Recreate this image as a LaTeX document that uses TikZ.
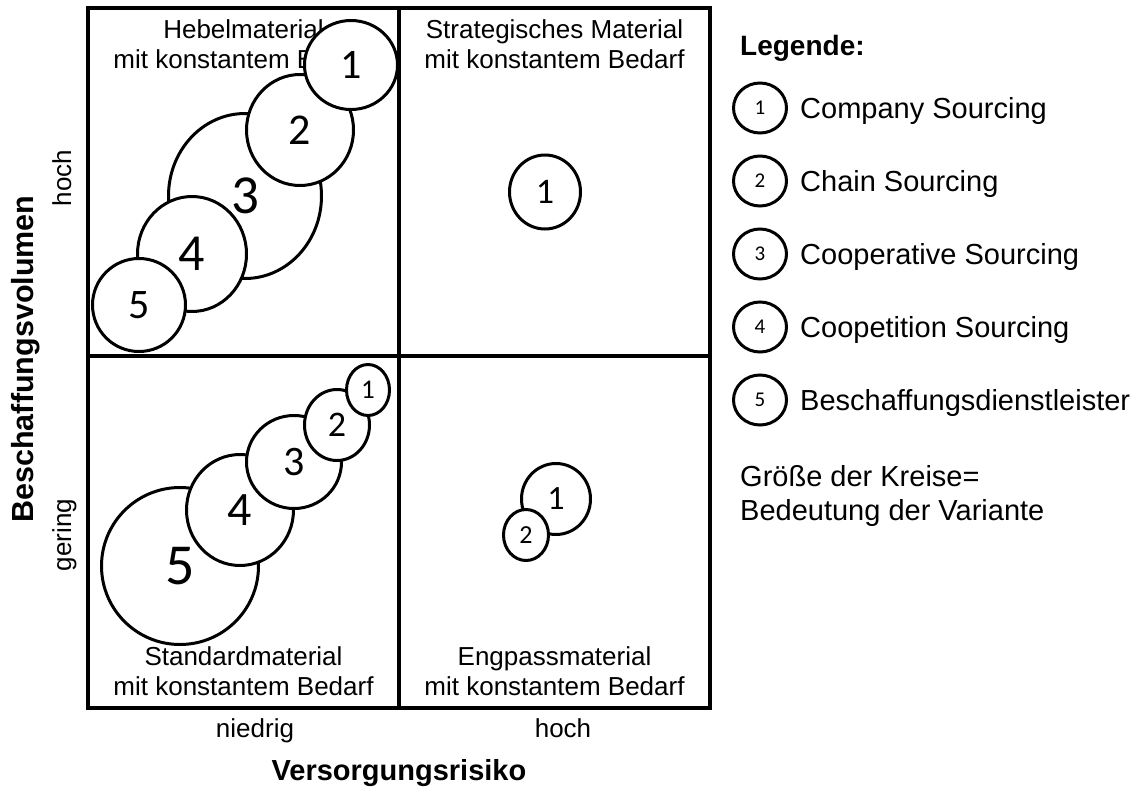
\documentclass[tikz,border=0pt]{standalone}
\usepackage{fontspec}
\setmainfont{Liberation Sans}
\newfontfamily\digitfont{Carlito}
\usetikzlibrary{shapes.geometric}
\tikzset{
  bub/.style={ellipse, draw, line width=3pt, fill=white, inner sep=0pt},
  frame/.style={line width=3.5pt, line join=miter},
  qtitle/.style={anchor=base, inner sep=0pt, font=\fontsize{26}{30}\selectfont},
  axlabel/.style={anchor=base, inner sep=0pt, font=\fontsize{26}{30}\selectfont},
  axtitle/.style={anchor=base, inner sep=0pt, font=\fontsize{29}{34}\selectfont\bfseries},
  legtext/.style={anchor=base west, inner sep=0pt, font=\fontsize{29}{34}\selectfont},
  legbub/.style={bub, minimum width=53pt, minimum height=50pt, font=\fontsize{21}{21}\digitfont},
}
\begin{document}
\begin{tikzpicture}[x=1pt, y=-1pt]
\useasboundingbox (0,0) rectangle (1146,787);

% corner and middle points of the portfolio grid
\coordinate (nw) at (88,8);
\coordinate (se) at (710,708);
\coordinate (mt) at (399,8);
\coordinate (mb) at (399,708);
\coordinate (ml) at (88,356);
\coordinate (mr) at (710,356);

% quadrant titles
\node[qtitle] (hebA) at (243.5,38) {Hebelmaterial};
\node[qtitle] (hebB) at (243.5,68) {mit konstantem Bedarf};
\node[qtitle] (strA) at (554.5,38) {Strategisches Material};
\node[qtitle] (strB) at (554.5,68) {mit konstantem Bedarf};
\node[qtitle] (stdA) at (243.5,665) {Standardmaterial};
\node[qtitle] (stdB) at (243.5,695) {mit konstantem Bedarf};
\node[qtitle] (engA) at (554.5,665) {Engpassmaterial};
\node[qtitle] (engB) at (554.5,695) {mit konstantem Bedarf};

% axes
\node[axlabel] (xlo) at (255,737) {niedrig};
\node[axlabel] (xhi) at (563,737) {hoch};
\node[axtitle] (xt) at (399,780) {Versorgungsrisiko};
\node[axlabel, rotate=90] (yhi) at (71,178) {hoch};
\node[axlabel, rotate=90] (ylo) at (71,535) {gering};
\node[axtitle, rotate=90, font=\fontsize{30.5}{34}\selectfont\bfseries] (yt) at (33,359) {Beschaffungsvolumen};

% Hebelmaterial
\node[bub, minimum width=153pt, minimum height=165pt, font=\fontsize{55}{55}\digitfont] (h3) at (245,196) {3};
\node[bub, minimum width=109pt, minimum height=115pt, font=\fontsize{52}{52}\digitfont] (h4) at (192,254) {4};
\node[bub, minimum width=93pt, minimum height=93pt, font=\fontsize{42}{42}\digitfont] (h5) at (139,305) {5};
\node[bub, minimum width=107pt, minimum height=111pt, font=\fontsize{44}{44}\digitfont] (h2) at (300,130) {2};
\node[bub, minimum width=93pt, minimum height=89pt, font=\fontsize{42}{42}\digitfont] (h1) at (351,65) {1};

% Strategisches Material
\node[bub, minimum width=71pt, minimum height=74pt, font=\fontsize{36}{36}\digitfont] (s1) at (545,192) {1};

% Standardmaterial
\node[bub, minimum width=157pt, minimum height=157pt, font=\fontsize{58}{58}\digitfont] (d5) at (180,566) {5};
\node[bub, minimum width=107pt, minimum height=111pt, font=\fontsize{48}{48}\digitfont] (d4) at (240,510) {4};
\node[bub, minimum width=95pt, minimum height=93pt, font=\fontsize{42}{42}\digitfont] (d3) at (294,462) {3};
\node[bub, minimum width=65pt, minimum height=71pt, font=\fontsize{36}{36}\digitfont] (d2) at (337,425) {2};
\node[bub, minimum width=43pt, minimum height=51pt, font=\fontsize{27}{27}\digitfont] (d1) at (368,390) {1};

% Engpassmaterial
\node[bub, minimum width=69pt, minimum height=71pt, font=\fontsize{34}{34}\digitfont] (e1) at (556,499) {1};
\node[bub, minimum width=45pt, minimum height=51pt, font=\fontsize{26}{26}\digitfont] (e2) at (526,535) {2};

% grid lines
\draw[frame] (nw) rectangle (se);
\draw[frame] (mt) -- (mb);
\draw[frame] (ml) -- (mr);

% legend
\node[anchor=base west, inner sep=0pt, font=\fontsize{28}{34}\selectfont\bfseries] (leg) at (740,55) {Legende:};
\node[legbub] (l1) at (760,108) {1};
\node[legbub] (l2) at (760,181) {2};
\node[legbub] (l3) at (760,254) {3};
\node[legbub] (l4) at (760,327) {4};
\node[legbub] (l5) at (760,400) {5};
\node[legtext] (t1) at (800,118) {Company Sourcing};
\node[legtext] (t2) at (800,191) {Chain Sourcing};
\node[legtext] (t3) at (800,264) {Cooperative Sourcing};
\node[legtext] (t4) at (800,337) {Coopetition Sourcing};
\node[legtext] (t5) at (800,410) {Beschaffungsdienstleister};
\node[legtext] (g1) at (740,486) {Größe der Kreise=};
\node[legtext] (g2) at (740,520) {Bedeutung der Variante};
\end{tikzpicture}
\end{document}
